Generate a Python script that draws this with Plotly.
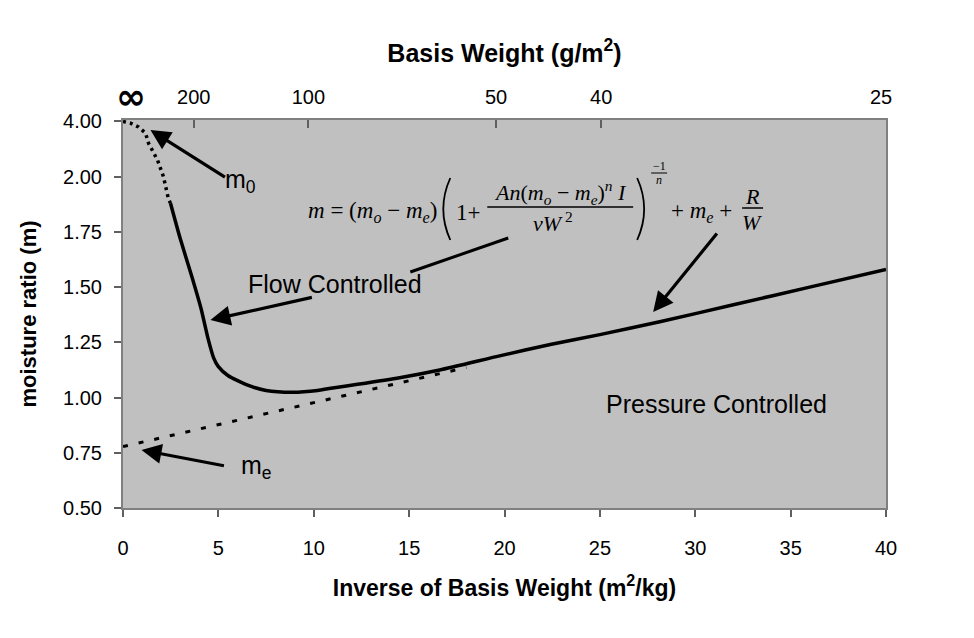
import plotly.graph_objects as go

# ---------------- data ----------------
# solid model curve: inverse basis weight (m2/kg) vs moisture ratio
solid_x = [2.49, 3.0, 3.6, 4.1, 4.45, 4.75, 5.0, 5.5, 6.5, 7.5, 8.9, 10.2, 10.9,
           12.3, 14.5, 16.6, 19.8, 22.4, 25.0, 28.2, 32.0, 36.0, 40.0]
solid_m = [1.88, 1.72, 1.55, 1.40, 1.27, 1.18, 1.14, 1.10, 1.057, 1.032, 1.024,
           1.032, 1.042, 1.06, 1.09, 1.125, 1.19, 1.24, 1.285, 1.344, 1.42, 1.50, 1.58]

# dotted extrapolation toward m0 (compressed upper part of the axis)
dot_x = [0.0, 0.39, 0.81, 1.18, 1.34, 1.81, 2.12, 2.38, 2.49]
dot_m = [4.0, 3.94, 3.80, 3.58, 3.21, 2.60, 2.00, 1.90, 1.88]

# dashed asymptote m_e + R/W
asym_x = [0.0, 18.0]
asym_m = [0.778, 1.136]

# axis ticks
x_ticks = [0, 5, 10, 15, 20, 25, 30, 35, 40]
y_ticks_m = [0.50, 0.75, 1.00, 1.25, 1.50, 1.75, 2.00, 4.00]
y_tick_text = ["0.50", "0.75", "1.00", "1.25", "1.50", "1.75", "2.00", "4.00"]
top_tick_pos = [3.71, 9.72, 19.56, 25.07]
top_tick_text = ["200", "100", "50", "40"]

# ---------------- helpers ----------------
def ymap(m):
    """broken y axis: linear up to 2.00, compressed 2.00-4.00 into one 0.25 step"""
    return m if m <= 2.0 else 2.0 + (m - 2.0) / 2.0 * 0.25

Y_LO, Y_HI = 0.5, 2.2566
# plot-area edges in window pixels (page body adds an 8 px offset)
PL, PR, PT, PB = 122.5, 886.0, 120.0, 508.0
OFF = 8
FIG_W, FIG_H = 974 - OFF, 638 - OFF

def dx(px):
    return (px - PL) / (PR - PL) * 40.0

def dy(py):
    return Y_LO + (PB - py) / (PB - PT) * (Y_HI - Y_LO)

def py_paper(py):
    return (PB - py) / (PB - PT)

SANS = "Liberation Sans, Arial, sans-serif"
SERIF = "Liberation Serif, Times New Roman, serif"

fig = go.Figure()

fig.add_trace(go.Scatter(x=asym_x, y=[ymap(v) for v in asym_m], mode="lines",
                         line=dict(color="black", width=3, dash="5px,11px"),
                         hoverinfo="skip", showlegend=False))
fig.add_trace(go.Scatter(x=dot_x, y=[ymap(v) for v in dot_m], mode="lines",
                         line=dict(color="black", width=3.5, dash="3px,4px"),
                         hoverinfo="skip", showlegend=False))
fig.add_trace(go.Scatter(x=solid_x, y=[ymap(v) for v in solid_m], mode="lines",
                         line=dict(color="black", width=3.5, shape="spline", smoothing=0.6),
                         hoverinfo="skip", showlegend=False))
# invisible trace to activate top axis
fig.add_trace(go.Scatter(x=[0, 40], y=[0.5, 0.5], xaxis="x2", mode="lines",
                         line=dict(width=0), hoverinfo="skip", showlegend=False))

ann = []

def txt(px, py, text, size, family=SANS):
    ann.append(dict(x=dx(px), y=dy(py), xref="x", yref="y", text=text, showarrow=False,
                    xanchor="center", yanchor="middle",
                    font=dict(family=family, size=size, color="black")))

def arrow(hx, hy, tx, ty):
    ann.append(dict(x=dx(hx), y=dy(hy), ax=dx(tx), ay=dy(ty), xref="x", yref="y",
                    axref="x", ayref="y", text="", showarrow=True, arrowhead=2,
                    arrowsize=1.25, arrowwidth=3.2, arrowcolor="black"))

# labels with arrows
txt(240, 181, "m<sub>0</sub>", 25)
arrow(150, 130, 226, 178)
txt(335, 284, "Flow Controlled", 25)
arrow(210, 320, 313, 297)
txt(256, 467, "m<sub>e</sub>", 25)
arrow(141, 450, 225, 466)
txt(716, 404, "Pressure Controlled", 25)
arrow(653, 312, 718, 232)

shapes = []

def hline(x0, x1, py, w=1.5):
    shapes.append(dict(type="line", xref="x", yref="y", x0=dx(x0), x1=dx(x1),
                       y0=dy(py), y1=dy(py), line=dict(color="black", width=w)))

def paren(xe, xc, y0, y1):
    ym = (y0 + y1) / 2
    shapes.append(dict(type="path", xref="x", yref="y",
                       path=f"M {dx(xe)},{dy(y0)} Q {dx(xc)},{dy(ym)} {dx(xe)},{dy(y1)}",
                       line=dict(color="black", width=1.8)))

# plain connector from "Flow Controlled" toward the equation
shapes.append(dict(type="line", xref="x", yref="y", x0=dx(410), y0=dy(272),
                   x1=dx(508), y1=dy(238), line=dict(color="black", width=3)))

# equation pieces
txt(372, 212, "<i>m</i> = (<i>m<sub>o</sub></i> − <i>m<sub>e</sub></i>)", 23, SERIF)
paren(450, 436, 178, 240)
txt(468, 212, "1+", 23, SERIF)
txt(560, 192, "<i>An</i>(<i>m<sub>o</sub></i> − <i>m<sub>e</sub></i>)<sup><i>n</i></sup> <i>I</i>", 22, SERIF)
hline(487, 633, 207)
txt(553, 222, "<i>νW</i><sup> 2</sup>", 22, SERIF)
paren(637, 651, 178, 240)
txt(659, 166, "−1", 12, SERIF)
hline(651, 667, 173, 1)
txt(659, 180, "<i>n</i>", 12, SERIF)
txt(701, 212, "+ <i>m<sub>e</sub></i> +", 23, SERIF)
txt(752, 196, "<i>R</i>", 22, SERIF)
hline(742, 763, 208)
txt(752, 222, "<i>W</i>", 22, SERIF)

# top-axis end labels (outside the plot area -> paper y)
ann.append(dict(x=dx(131), y=py_paper(96), xref="x", yref="paper", text="<b>∞</b>",
                xanchor="center", yanchor="middle",
                showarrow=False, font=dict(family="DejaVu Sans, sans-serif", size=36, color="black")))
ann.append(dict(x=dx(881), y=py_paper(97), xref="x", yref="paper", text="25",
                xanchor="center", yanchor="middle",
                showarrow=False, font=dict(family=SANS, size=20, color="black")))

fig.update_layout(
    width=FIG_W, height=FIG_H,
    margin=dict(l=PL - OFF, r=FIG_W - (PR - OFF), t=PT - OFF, b=FIG_H - (PB - OFF),
                autoexpand=False),
    paper_bgcolor="white", plot_bgcolor="#c0c0c0",
    font=dict(family=SANS, size=20, color="black"),
    showlegend=False,
    annotations=ann, shapes=shapes,
    xaxis=dict(range=[0, 40], tickvals=x_ticks, ticktext=[str(v) for v in x_ticks],
               ticks="outside", ticklen=7, tickwidth=2, tickcolor="#606060",
               showline=True, linecolor="#808080", linewidth=2, mirror=True,
               showgrid=False, zeroline=False, ticklabelstandoff=14,
               title=dict(text="<b>Inverse of Basis Weight (m<sup>2</sup>/kg)</b>",
                          font=dict(size=23), standoff=22)),
    xaxis2=dict(range=[0, 40], overlaying="x", side="top", tickvals=top_tick_pos,
                ticktext=top_tick_text, ticks="inside", ticklen=8, tickwidth=2,
                tickcolor="#606060", showline=False, showgrid=False, zeroline=False,
                ticklabelstandoff=11,
                title=dict(text="<b>Basis Weight (g/m<sup>2</sup>)</b>",
                           font=dict(size=25), standoff=16)),
    yaxis=dict(range=[Y_LO, Y_HI], tickvals=[ymap(v) for v in y_ticks_m],
               ticktext=y_tick_text, ticks="outside", ticklen=7, tickwidth=2,
               tickcolor="#606060", showline=True, linecolor="#808080", linewidth=2,
               mirror=True, showgrid=False, zeroline=False, ticklabelstandoff=8,
               title=dict(text="<b>moisture ratio (m)</b>", font=dict(size=22), standoff=20)),
)

fig.write_html("out.html")
